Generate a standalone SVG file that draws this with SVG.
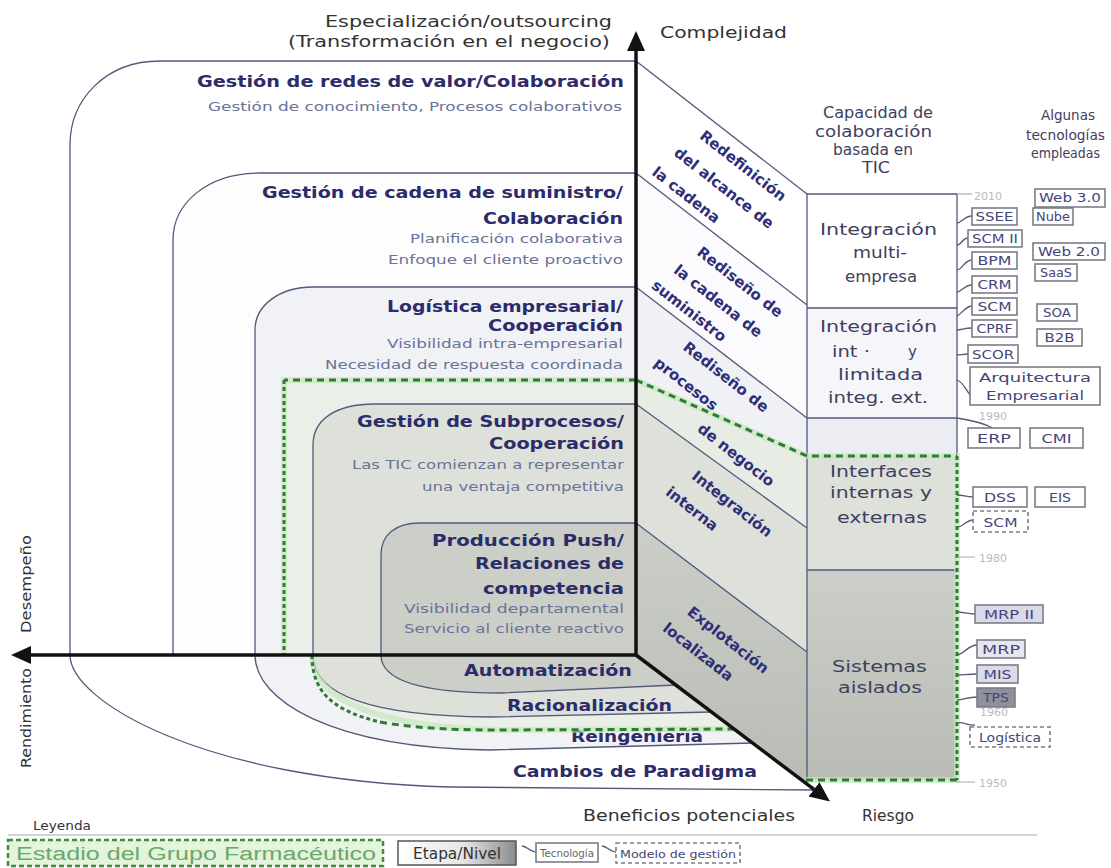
<svg xmlns="http://www.w3.org/2000/svg" width="1111" height="868" viewBox="0 0 1111 868">
<defs>
<style>
.ol{fill:none;stroke:#55577c;stroke-width:1.3}
.h{font-family:"DejaVu Sans",sans-serif;font-weight:bold;font-size:16px;fill:#2c2c6a}
.s{font-family:"DejaVu Sans",sans-serif;font-size:12px;fill:#6a7398}
.dg{font-family:"DejaVu Sans",sans-serif;font-weight:bold;font-size:15px;fill:#2f2f78;text-anchor:middle}
.ax{stroke:#111;stroke-width:3.5;fill:none}
.ti{font-family:"DejaVu Sans",sans-serif;font-size:15px;fill:#333}
.c{font-family:"DejaVu Sans",sans-serif;font-size:15px;fill:#3f4060}
.t{font-family:"DejaVu Sans",sans-serif;font-size:11.5px;fill:#45457a}
.tb{fill:#fff;stroke:#7c7c86;stroke-width:1.6}
.td{fill:#fff;stroke:#7c7c86;stroke-width:1.6;stroke-dasharray:4 3}
.tc{fill:none;stroke:#555a70;stroke-width:1.3}
.yr{font-family:"DejaVu Sans",sans-serif;font-size:11px;fill:#b9b9b9}
.gd{fill:none;stroke:#2f7a35;stroke-width:3;stroke-dasharray:7 5}
.gv{fill:none;stroke:#2f7a35;stroke-width:3;stroke-dasharray:4 3}
.gh{fill:none;stroke:#c6e8bc;stroke-width:6;opacity:.7}
</style>
<marker id="ah" markerUnits="userSpaceOnUse" markerWidth="21" markerHeight="20" refX="0" refY="10" orient="auto">
<path d="M0,1 L20,10 L0,19 z" fill="#111"/>
</marker>
<linearGradient id="gGrey" x1="0" y1="0" x2="0" y2="1">
<stop offset="0" stop-color="#cbcfc8"/><stop offset="1" stop-color="#b8bcb5"/>
</linearGradient>
<linearGradient id="gLeg" x1="0" y1="0" x2="1" y2="0">
<stop offset="0" stop-color="#ffffff"/><stop offset="0.55" stop-color="#e6e6e6"/><stop offset="1" stop-color="#8c8c8c"/>
</linearGradient>
</defs>
<rect width="1111" height="868" fill="#fff"/>

<!-- stacked levels: fills -->
<g id="fills">
<path d="M636,61 L160,61 C105,61 70,100 70,145 L70,655 C70,700 200,780 450,787 L815,790 L636,655 Z" fill="#fff"/>
<path d="M636,173 L260,173 C205,173 173,205 173,240 L173,655 L636,655 Z" fill="#fdfdfe"/>
<path d="M636,287 L313,287 C280,287 255,305 255,330 L255,655 C255,700 330,748 490,750 L752,743 L636,655 Z" fill="#f1f2f6"/>
<path d="M636,380 L284,380 L284,655 L312,655 C312,700 380,728 500,730 L734,729 L636,655 Z" fill="#eaefe8"/>
<path d="M636,404 L375,404 C335,404 313,420 313,445 L313,655 C313,695 370,716 490,717 L711,712 L636,655 Z" fill="#dde1da"/>
<path d="M636,523 L420,523 C395,523 381,535 381,555 L381,655 C381,680 420,693 500,693 L676,685 L636,655 Z" fill="#cbcfc8"/>
<!-- side face -->
<polygon points="636,61 807,194 807,305 636,173" fill="#fff"/>
<polygon points="636,173 807,305 807,418 636,287" fill="#fbfbfd"/>
<polygon points="636,287 807,418 807,528 636,404" fill="#f0f1f5"/>
<polygon points="636,380 807,456 807,528 636,404" fill="#e7ece5"/>
<polygon points="636,404 807,528 807,652 636,523" fill="#dde1da"/>
<polygon points="636,523 807,652 807,784 636,655" fill="url(#gGrey)"/>
</g>

<!-- level outlines -->
<g id="level-redes">
<path class="ol" d="M636,61 L160,61 C105,61 70,100 70,145 L70,655 C70,700 200,780 450,787 L815,790"/>
<path class="ol" d="M636,61 L807,194"/>
<text class="h" x="197" y="87" textLength="427" lengthAdjust="spacingAndGlyphs">Gestión de redes de valor/Colaboración</text>
<text class="s" x="208" y="111" textLength="414" lengthAdjust="spacingAndGlyphs">Gestión de conocimiento, Procesos colaborativos</text>
</g>
<g id="level-cadena">
<path class="ol" d="M636,173 L260,173 C205,173 173,205 173,240 L173,655"/>
<path class="ol" d="M636,173 L807,305"/>
<text class="h" x="262" y="198" textLength="361" lengthAdjust="spacingAndGlyphs">Gestión de cadena de suministro/</text>
<text class="h" x="483" y="224" textLength="140" lengthAdjust="spacingAndGlyphs">Colaboración</text>
<text class="s" x="410" y="243" textLength="213" lengthAdjust="spacingAndGlyphs">Planificación colaborativa</text>
<text class="s" x="388" y="264" textLength="235" lengthAdjust="spacingAndGlyphs">Enfoque el cliente proactivo</text>
</g>
<g id="level-logistica">
<path class="ol" d="M636,287 L313,287 C280,287 255,305 255,330 L255,655 C255,700 330,748 490,750 L752,743"/>
<path class="ol" d="M636,287 L807,418"/>
<text class="h" x="387" y="312" textLength="236" lengthAdjust="spacingAndGlyphs">Logística empresarial/</text>
<text class="h" x="488" y="331" textLength="135" lengthAdjust="spacingAndGlyphs">Cooperación</text>
<text class="s" x="387" y="348" textLength="236" lengthAdjust="spacingAndGlyphs">Visibilidad intra-empresarial</text>
<text class="s" x="325" y="369" textLength="298" lengthAdjust="spacingAndGlyphs">Necesidad de respuesta coordinada</text>
</g>
<g id="level-subprocesos">
<path class="ol" d="M636,404 L375,404 C335,404 313,420 313,445 L313,655 C313,695 370,716 490,717 L711,712"/>
<path class="ol" d="M636,404 L807,528"/>
<text class="h" x="357" y="427" textLength="267" lengthAdjust="spacingAndGlyphs">Gestión de Subprocesos/</text>
<text class="h" x="489" y="449" textLength="135" lengthAdjust="spacingAndGlyphs">Cooperación</text>
<text class="s" x="352" y="469" textLength="272" lengthAdjust="spacingAndGlyphs">Las TIC comienzan a representar</text>
<text class="s" x="422" y="491" textLength="202" lengthAdjust="spacingAndGlyphs">una ventaja competitiva</text>
</g>
<g id="level-push">
<path class="ol" d="M636,523 L420,523 C395,523 381,535 381,555 L381,655 C381,680 420,693 500,693 L676,685"/>
<path class="ol" d="M636,523 L807,652"/>
<text class="h" x="432" y="546" textLength="192" lengthAdjust="spacingAndGlyphs">Producción Push/</text>
<text class="h" x="475" y="569" textLength="149" lengthAdjust="spacingAndGlyphs">Relaciones de</text>
<text class="h" x="483" y="594" textLength="141" lengthAdjust="spacingAndGlyphs">competencia</text>
<text class="s" x="404" y="613" textLength="220" lengthAdjust="spacingAndGlyphs">Visibilidad departamental</text>
<text class="s" x="404" y="633" textLength="220" lengthAdjust="spacingAndGlyphs">Servicio al cliente reactivo</text>
</g>

<!-- change bands below the axis -->
<g id="bands">
<text class="h" x="464" y="676" textLength="168" lengthAdjust="spacingAndGlyphs">Automatización</text>
<text class="h" x="507" y="711" textLength="165" lengthAdjust="spacingAndGlyphs">Racionalización</text>
<text class="h" x="571" y="742" textLength="132" lengthAdjust="spacingAndGlyphs">Reingeniería</text>
<text class="h" x="513" y="777" textLength="244" lengthAdjust="spacingAndGlyphs">Cambios de Paradigma</text>
</g>

<!-- side face labels -->
<g id="side-labels">
<text class="dg" transform="translate(743,166) rotate(38)" y="5">Redefinición</text>
<text class="dg" transform="translate(724,188) rotate(38)" y="5">del alcance de</text>
<text class="dg" transform="translate(686,195) rotate(38)" y="5">la cadena</text>
<text class="dg" transform="translate(740,282) rotate(38)" y="5">Rediseño de</text>
<text class="dg" transform="translate(718,301) rotate(38)" y="5">la cadena de</text>
<text class="dg" transform="translate(689,311) rotate(38)" y="5">suministro</text>
<text class="dg" transform="translate(726,377) rotate(38)" y="5">Rediseño de</text>
<text class="dg" transform="translate(686,384) rotate(38)" y="5">procesos</text>
<text class="dg" transform="translate(736,455) rotate(38)" y="5">de negocio</text>
<text class="dg" transform="translate(732,504) rotate(38)" y="5">Integración</text>
<text class="dg" transform="translate(692,509) rotate(38)" y="5">interna</text>
<text class="dg" transform="translate(728,640) rotate(38)" y="5">Explotación</text>
<text class="dg" transform="translate(698,652) rotate(38)" y="5">localizada</text>
</g>

<!-- ICT collaboration column -->
<g id="col-multi">
<rect x="807" y="194" width="150" height="114" fill="#fff"/>
<text class="c" x="820" y="235" textLength="117" lengthAdjust="spacingAndGlyphs">Integración</text>
<text class="c" x="853" y="258" textLength="54" lengthAdjust="spacingAndGlyphs">multi-</text>
<text class="c" x="845" y="282" textLength="72" lengthAdjust="spacingAndGlyphs">empresa</text>
</g>
<g id="col-limitada">
<rect x="807" y="308" width="150" height="110" fill="#f6f6fa"/>
<text class="c" x="820" y="332" textLength="117" lengthAdjust="spacingAndGlyphs">Integración</text>
<text class="c" x="832" y="357" textLength="38" lengthAdjust="spacingAndGlyphs">int ·</text>
<text class="c" x="908" y="357">y</text>
<text class="c" x="838" y="380" textLength="85" lengthAdjust="spacingAndGlyphs">limitada</text>
<text class="c" x="828" y="403" textLength="100" lengthAdjust="spacingAndGlyphs">integ. ext.</text>
</g>
<g id="col-interfaces">
<rect x="807" y="418" width="150" height="38" fill="#ebedf2"/>
<rect x="807" y="456" width="150" height="114" fill="#dde1da"/>
<text class="c" x="830" y="477" textLength="102" lengthAdjust="spacingAndGlyphs" fill="#5a5e6e">Interfaces</text>
<text class="c" x="830" y="498" textLength="102" lengthAdjust="spacingAndGlyphs" fill="#5a5e6e">internas y</text>
<text class="c" x="837" y="523" textLength="90" lengthAdjust="spacingAndGlyphs" fill="#5a5e6e">externas</text>
</g>
<g id="col-aislados">
<rect x="807" y="570" width="150" height="210" fill="url(#gGrey)"/>
<text class="c" x="832" y="672" textLength="95" lengthAdjust="spacingAndGlyphs" fill="#5a5a7a">Sistemas</text>
<text class="c" x="838" y="693" textLength="84" lengthAdjust="spacingAndGlyphs" fill="#5a5a7a">aislados</text>
</g>
<g id="col-lines">
<path class="ol" d="M807,194 L957,194 M807,194 L807,784 M957,194 L957,456 M807,308 L957,308 M807,418 L957,418 M807,570 L957,570"/>
<path d="M957,194 L972,194" stroke="#aaa" stroke-width="1.2"/>
</g>

<!-- column headers -->
<g id="headers">
<text class="c" x="823" y="118" textLength="110" lengthAdjust="spacingAndGlyphs" fill="#4a4a60">Capacidad de</text>
<text class="c" x="815" y="137" textLength="117" lengthAdjust="spacingAndGlyphs" fill="#4a4a60">colaboración</text>
<text class="c" x="833" y="155" textLength="80" lengthAdjust="spacingAndGlyphs" fill="#4a4a60">basada en</text>
<text class="c" x="862" y="173" textLength="28" lengthAdjust="spacingAndGlyphs" fill="#4a4a60">TIC</text>
<text class="c" x="1041" y="120" textLength="54" lengthAdjust="spacingAndGlyphs" fill="#4a4a60" style="font-size:14px">Algunas</text>
<text class="c" x="1026" y="140" textLength="79" lengthAdjust="spacingAndGlyphs" fill="#4a4a60" style="font-size:14px">tecnologías</text>
<text class="c" x="1031" y="158" textLength="69" lengthAdjust="spacingAndGlyphs" fill="#4a4a60" style="font-size:14px">empleadas</text>
</g>

<!-- pharma group stage boundary -->
<g id="stage">
<path class="gh" d="M636,380 L284,380 L284,655 M312,655 C312,700 380,728 500,730 L734,729 M636,380 L807,456 L957,456 L957,780 L805,780"/>
<path class="gd" d="M636,380 L284,380"/>
<path class="gv" d="M284,380 L284,655"/>
<path class="gv" d="M312,655 C312,690 330,710 380,722"/>
<path class="gd" d="M380,722 C420,729 460,730 500,730 L734,729"/>
<path class="gd" d="M636,380 L807,456 L957,456"/>
<path class="gv" d="M957,456 L957,780"/>
<path class="gd" d="M957,780 L805,780"/>
</g>

<!-- axes and technology links -->
<g id="connectors">
<path class="ax" d="M636,655 L636,51" marker-end="url(#ah)"/>
<path class="ax" d="M636,655 L31,655" marker-end="url(#ah)"/>
<path class="ax" d="M636,655 L814,789.4" marker-end="url(#ah)"/>
<path class="tc" d="M957,223 C962,223 964,216 972,216"/>
<path class="tc" d="M957,245 C962,245 962,238 968,238"/>
<path class="tc" d="M957,270 C962,270 964,260 972,260"/>
<path class="tc" d="M957,292 C962,292 964,285 972,285"/>
<path class="tc" d="M957,316 C962,314 964,307 972,306" stroke-width="2"/>
<path class="tc" d="M957,330 C962,330 964,328 972,328"/>
<path class="tc" d="M957,355 C961,355 963,354 968,354"/>
<path class="tc" d="M957,380 C963,382 966,390 970,395"/>
<path class="tc" d="M957,418 C970,420 985,424 993,428"/>
<path class="tc" d="M957,495 C963,495 966,497 973,497"/>
<path class="tc" d="M957,527 C963,527 966,520 973,520"/>
<path class="tc" d="M957,612 C963,612 967,614 975,614"/>
<path class="tc" d="M957,655 C963,655 968,645 977,645"/>
<path class="tc" d="M957,675 C963,675 968,674 977,674"/>
<path class="tc" d="M957,700 C963,700 968,697 977,697"/>
<path class="tc" d="M957,723 C963,721 968,726 975,725"/>
<path d="M957,557 L975,557 M957,782 L975,782" stroke="#aaa" stroke-width="1.2"/>
</g>

<!-- year marks -->
<g id="years">
<text class="yr" x="974" y="200">2010</text>
<text class="yr" x="979" y="420">1990</text>
<text class="yr" x="979" y="562">1980</text>
<text class="yr" x="980" y="716">1960</text>
<text class="yr" x="979" y="787">1950</text>
</g>

<!-- technologies -->
<g id="tech-web3"><rect class="tb" x="1035" y="189" width="70" height="18"/><text class="t" x="1039" y="202" textLength="62" lengthAdjust="spacingAndGlyphs">Web 3.0</text></g>
<g id="tech-ssee"><rect class="tb" x="972" y="208" width="45" height="17"/><text class="t" x="975.5" y="221" textLength="38" lengthAdjust="spacingAndGlyphs">SSEE</text></g>
<g id="tech-nube"><rect class="tb" x="1033" y="208" width="40" height="17"/><text class="t" x="1036" y="221" textLength="34" lengthAdjust="spacingAndGlyphs">Nube</text></g>
<g id="tech-scm2"><rect class="tb" x="968" y="230" width="54" height="17"/><text class="t" x="972" y="243" textLength="46" lengthAdjust="spacingAndGlyphs">SCM II</text></g>
<g id="tech-web2"><rect class="tb" x="1033" y="243" width="72" height="17"/><text class="t" x="1038" y="256" textLength="62" lengthAdjust="spacingAndGlyphs">Web 2.0</text></g>
<g id="tech-bpm"><rect class="tb" x="972" y="252" width="45" height="17"/><text class="t" x="977.5" y="265" textLength="34" lengthAdjust="spacingAndGlyphs">BPM</text></g>
<g id="tech-saas"><rect class="tb" x="1035" y="264" width="42" height="17"/><text class="t" x="1040" y="277" textLength="32" lengthAdjust="spacingAndGlyphs">SaaS</text></g>
<g id="tech-crm"><rect class="tb" x="972" y="276" width="45" height="17"/><text class="t" x="977.5" y="289" textLength="34" lengthAdjust="spacingAndGlyphs">CRM</text></g>
<g id="tech-scm"><rect class="tb" x="972" y="298" width="45" height="17"/><text class="t" x="977.5" y="311" textLength="34" lengthAdjust="spacingAndGlyphs">SCM</text></g>
<g id="tech-soa"><rect class="tb" x="1037" y="304" width="40" height="17"/><text class="t" x="1043" y="317" textLength="28" lengthAdjust="spacingAndGlyphs">SOA</text></g>
<g id="tech-cprf"><rect class="tb" x="972" y="320" width="45" height="17"/><text class="t" x="976.5" y="333" textLength="36" lengthAdjust="spacingAndGlyphs">CPRF</text></g>
<g id="tech-b2b"><rect class="tb" x="1037" y="329" width="45" height="17"/><text class="t" x="1044.5" y="342" textLength="30" lengthAdjust="spacingAndGlyphs">B2B</text></g>
<g id="tech-scor"><rect class="tb" x="968" y="345" width="50" height="18"/><text class="t" x="972" y="359" textLength="42" lengthAdjust="spacingAndGlyphs">SCOR</text></g>
<g id="tech-arq"><rect class="tb" x="970" y="367" width="130" height="38"/><text class="t" x="979" y="382" textLength="112" lengthAdjust="spacingAndGlyphs">Arquitectura</text><text class="t" x="986" y="400" textLength="98" lengthAdjust="spacingAndGlyphs">Empresarial</text></g>
<g id="tech-erp"><rect class="tb" x="968" y="428" width="52" height="20"/><text class="t" x="977" y="443" textLength="34" lengthAdjust="spacingAndGlyphs">ERP</text></g>
<g id="tech-cmi"><rect class="tb" x="1030" y="428" width="53" height="20"/><text class="t" x="1041.5" y="443" textLength="30" lengthAdjust="spacingAndGlyphs">CMI</text></g>
<g id="tech-dss"><rect class="tb" x="973" y="487" width="54" height="20"/><text class="t" x="984" y="502" textLength="32" lengthAdjust="spacingAndGlyphs">DSS</text></g>
<g id="tech-eis"><rect class="tb" x="1035" y="487" width="50" height="20"/><text class="t" x="1049" y="502" textLength="22" lengthAdjust="spacingAndGlyphs">EIS</text></g>
<g id="tech-scm-model"><rect class="td" x="973" y="511" width="55" height="21"/><text class="t" x="983.5" y="527" textLength="34" lengthAdjust="spacingAndGlyphs">SCM</text></g>
<g id="tech-mrp2"><rect class="tb" x="975" y="605" width="68" height="18" style="fill:#d9d9e8"/><text class="t" x="984" y="619" textLength="50" lengthAdjust="spacingAndGlyphs">MRP II</text></g>
<g id="tech-mrp"><rect class="tb" x="977" y="640" width="48" height="18" style="fill:#e6e6ef"/><text class="t" x="982" y="654" textLength="38" lengthAdjust="spacingAndGlyphs">MRP</text></g>
<g id="tech-mis"><rect class="tb" x="977" y="665" width="41" height="18" style="fill:#dcdce8"/><text class="t" x="983.5" y="679" textLength="28" lengthAdjust="spacingAndGlyphs">MIS</text></g>
<g id="tech-tps"><rect class="tb" x="977" y="688" width="38" height="19" style="fill:#8e909c"/><text class="t" x="983" y="702" textLength="26" lengthAdjust="spacingAndGlyphs">TPS</text></g>
<g id="tech-logistica"><rect class="td" x="970" y="727" width="80" height="20"/><text class="t" x="979" y="742" textLength="62" lengthAdjust="spacingAndGlyphs">Logística</text></g>

<!-- axis captions -->
<g id="captions">
<text class="ti" x="325" y="27" textLength="287" lengthAdjust="spacingAndGlyphs">Especialización/outsourcing</text>
<text class="ti" x="288" y="47" textLength="322" lengthAdjust="spacingAndGlyphs">(Transformación en el negocio)</text>
<text class="ti" x="660" y="38" textLength="127" lengthAdjust="spacingAndGlyphs" fill="#4a4a80">Complejidad</text>
<text class="ti" transform="translate(31,584) rotate(-90)" x="-49" y="0" textLength="98" lengthAdjust="spacingAndGlyphs" fill="#5a5aa0" style="font-size:14px">Desempeño</text>
<text class="ti" transform="translate(31,718) rotate(-90)" x="-50" y="0" textLength="100" lengthAdjust="spacingAndGlyphs" fill="#5a5aa0" style="font-size:14px">Rendimiento</text>
<text class="ti" x="583" y="821" textLength="212" lengthAdjust="spacingAndGlyphs" fill="#4a4a4a">Beneficios potenciales</text>
<text class="ti" x="862" y="821" textLength="52" lengthAdjust="spacingAndGlyphs" fill="#3a3a3a">Riesgo</text>
</g>

<!-- legend -->
<g id="legend">
<text class="ti" x="33" y="830" textLength="58" lengthAdjust="spacingAndGlyphs" fill="#9a9a9a" style="font-size:13px">Leyenda</text>
<path d="M8,835 L1037,835" stroke="#c4c4c4" stroke-width="1.5"/>
<rect x="8" y="840" width="375" height="26" fill="#e4f3dc" stroke="#3e8e3e" stroke-width="2.5" stroke-dasharray="5 3"/>
<text x="16" y="860" textLength="360" lengthAdjust="spacingAndGlyphs" style="font-family:'Liberation Sans',sans-serif;font-size:18px;fill:#6aa869">Estadio del Grupo Farmacéutico</text>
<rect x="398" y="841" width="118" height="24" fill="url(#gLeg)" stroke="#555" stroke-width="1.5"/>
<text class="ti" x="413" y="859" textLength="88" lengthAdjust="spacingAndGlyphs" fill="#3b3b6b">Etapa/Nivel</text>
<path class="tc" d="M522,846 C527,846 530,852 536,852"/>
<rect class="tb" x="536" y="843" width="62" height="19"/>
<text class="t" x="540" y="857" textLength="54" lengthAdjust="spacingAndGlyphs" style="font-size:10px;fill:#666">Tecnología</text>
<path class="tc" d="M602,846 C607,846 610,852 616,852"/>
<rect class="td" x="616" y="843" width="124" height="20"/>
<text class="t" x="620" y="858" textLength="116" lengthAdjust="spacingAndGlyphs" style="font-size:10px">Modelo de gestión</text>
</g>
</svg>
